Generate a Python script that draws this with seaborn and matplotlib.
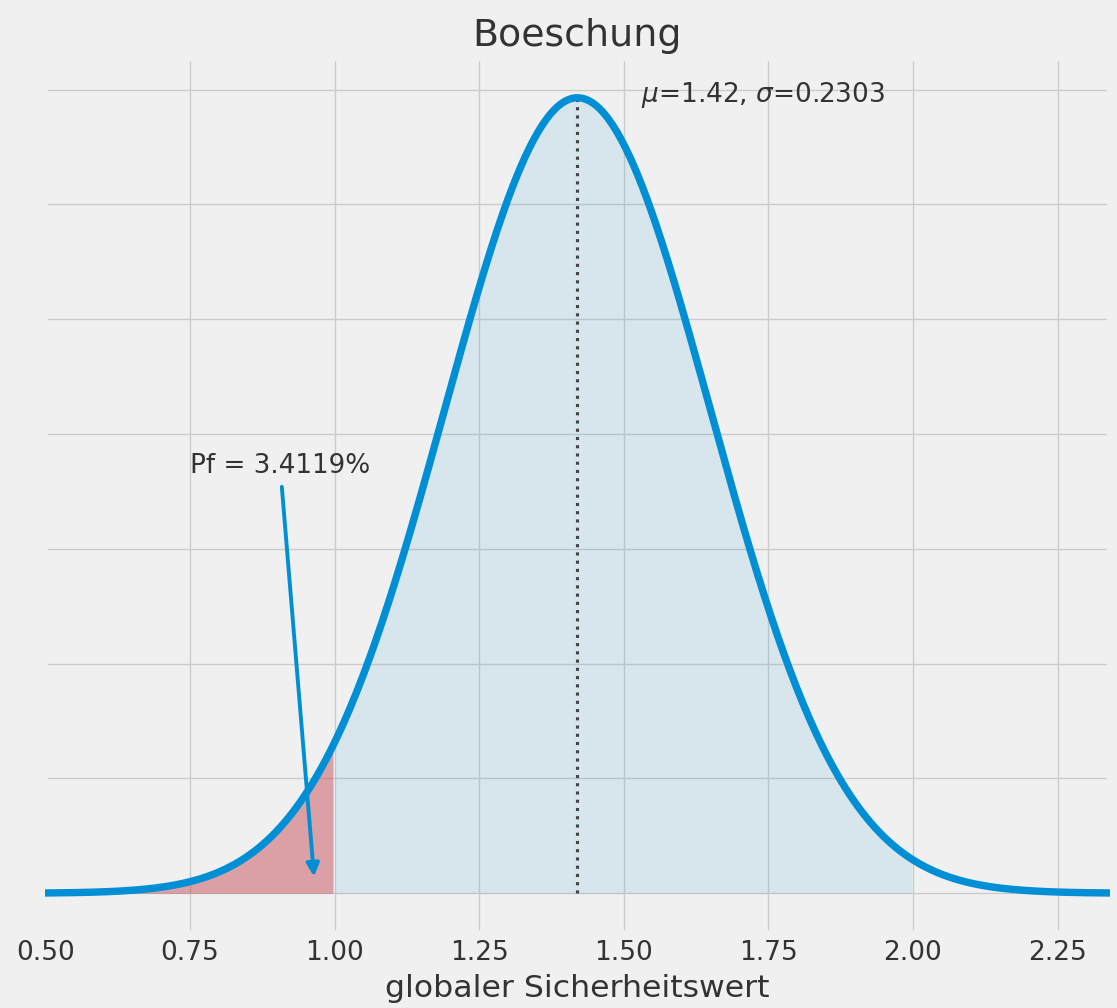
import numpy as np
import pandas as pd
import matplotlib
matplotlib.use('Agg')
import matplotlib.pyplot as plt
import seaborn as sns

# Kennwerte der Verteilung
mu = 1.42
sigma = 0.2303
grenze = 1.0          # globaler Sicherheitswert = 1 -> Versagen
obere_grenze = 2.0    # Ende der blauen Flaeche
pf_text = '3.4119'

x_ticks = [0.50, 0.75, 1.00, 1.25, 1.50, 1.75, 2.00, 2.25]
y_gitter = [0.0, 0.25, 0.5, 0.75, 1.0, 1.25, 1.5, 1.75]

# Dichtefunktion der Normalverteilung (mu +- 4 sigma)
x = np.linspace(mu - 4 * sigma, mu + 4 * sigma, 500)
y = np.exp(-0.5 * ((x - mu) / sigma) ** 2) / (sigma * np.sqrt(2 * np.pi))
df = pd.DataFrame({'fs': x, 'pdf': y})

plt.style.use('fivethirtyeight')
plt.rcParams['grid.linewidth'] = 0.7
plt.rcParams['text.color'] = '#333333'
plt.rcParams['xtick.color'] = '#333333'
plt.rcParams['axes.labelcolor'] = '#333333'

fig, ax = plt.subplots(figsize=(1117 / 140, 1008 / 140), dpi=140)
fig.subplots_adjust(left=0.040, right=0.994, top=0.9425, bottom=0.0744)

sns.lineplot(data=df, x='fs', y='pdf', ax=ax, color='#008fd5', lw=3.8, zorder=3)

rot = df[df.fs <= grenze]
blau = df[(df.fs >= grenze) & (df.fs <= obere_grenze)]
ax.fill_between(rot.fs, 0, rot.pdf, color='#c0404a', alpha=0.45, lw=0)
ax.fill_between(blau.fs, 0, blau.pdf, color='#008fd5', alpha=0.1, lw=0)

peak = y.max()
ax.vlines(mu, 0, peak, colors='#444444', linestyles='dotted', lw=1.6, zorder=2)

ax.text(mu + 0.11, 1.724, r'$\mu$=%.2f, $\sigma$=%.4f' % (mu, sigma), fontsize=13.6)
ax.annotate('Pf = ' + pf_text + '%', xy=(0.965, 0.028), xytext=(0.75, 0.915),
            fontsize=13.5,
            arrowprops=dict(arrowstyle='-|>', color='#008fd5', lw=2))

ax.set_xlim(x.min(), x.max())
ax.set_ylim(-0.0866, 1.819)
ax.set_xticks(x_ticks)
ax.set_xticklabels(['%.2f' % t for t in x_ticks], fontsize=13.6)
ax.set_yticks(y_gitter)
ax.set_yticklabels([])
ax.set_ylabel('')
ax.set_xlabel('globaler Sicherheitswert', fontsize=16.2)
ax.set_title('Boeschung', fontsize=19.5)

fig.savefig('out.png', dpi=140, facecolor='#f0f0f0')
